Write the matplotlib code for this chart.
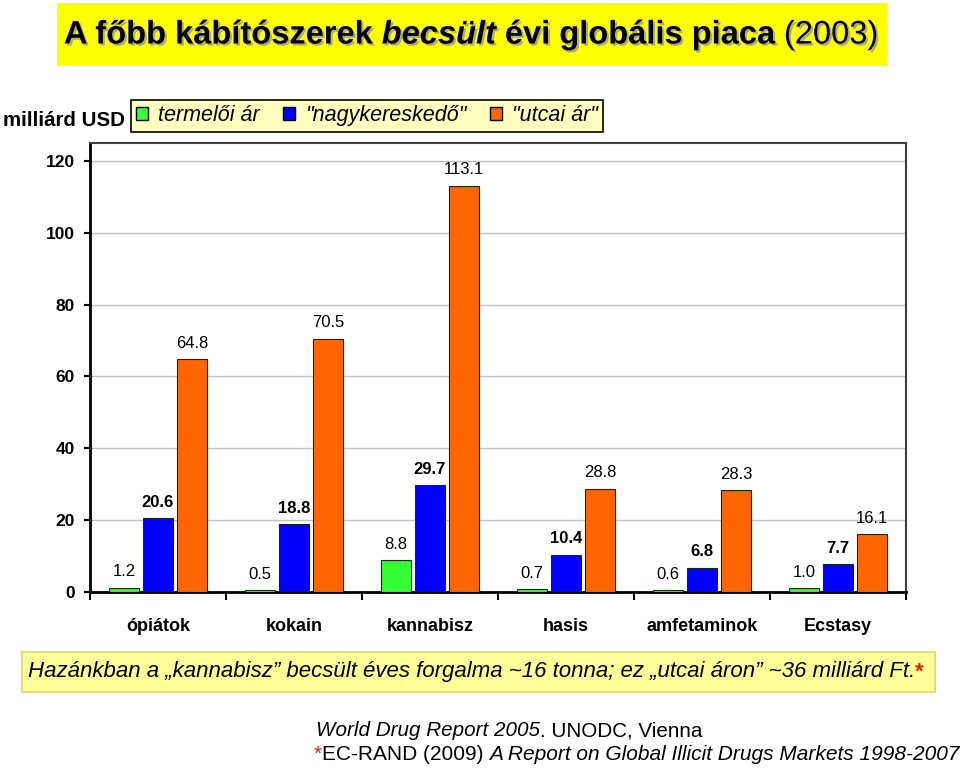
import matplotlib
matplotlib.use('Agg')
import matplotlib.pyplot as plt
import matplotlib.patheffects as pe
import matplotlib.transforms as mtransforms
from matplotlib.patches import Patch, Rectangle
import numpy as np

plt.rcParams['font.family'] = ['Liberation Sans', 'DejaVu Sans']

# data
categories = ['ópiátok', 'kokain', 'kannabisz', 'hasis', 'amfetaminok', 'Ecstasy']
series_names = ['termelői ár', '"nagykereskedő"', '"utcai ár"']
termeloi = [1.2, 0.5, 8.8, 0.7, 0.6, 1.0]
nagyker = [20.6, 18.8, 29.7, 10.4, 6.8, 7.7]
utcai = [64.8, 70.5, 113.1, 28.8, 28.3, 16.1]
yticks = [0, 20, 40, 60, 80, 100, 120]

colors = ['#33FF33', '#0000FF', '#FF6600']
W, H = 960, 769

fig = plt.figure(figsize=(W / 100, H / 100), dpi=100)
rend = fig.canvas.get_renderer()
ident = mtransforms.IdentityTransform()


def text_w(s, **kw):
    # width in pixels, robust to leading/trailing spaces
    t1 = fig.text(0, 0, '|' + s + '|', transform=ident, **kw)
    t2 = fig.text(0, 0, '||', transform=ident, **kw)
    w = t1.get_window_extent(rend).width - t2.get_window_extent(rend).width
    t1.remove()
    t2.remove()
    return w


def rich(x, y, parts, size, align='left', effects=None):
    # parts: list of (string, dict of text kwargs); x,y in pixels from top-left
    widths = [text_w(s, fontsize=size, **kw) for s, kw in parts]
    if align == 'center':
        x = x - sum(widths) / 2
    for (s, kw), w in zip(parts, widths):
        t = fig.text(x, H - y, s, transform=ident, fontsize=size, va='center', **kw)
        if effects:
            t.set_path_effects(effects)
        x += w


# title box
fig.patches.append(Rectangle((57, H - 66), 830, 63, transform=ident,
                             facecolor='#FFFF00', edgecolor='none', zorder=0))
shadow = [pe.SimplePatchShadow(offset=(1.5, -1.5), shadow_rgbFace='#999999', alpha=0.8), pe.Normal()]
rich(471, 35, [('A főbb kábítószerek ', dict(fontweight='bold')),
               ('becsült', dict(fontweight='bold', style='italic')),
               (' évi globális piaca ', dict(fontweight='bold')),
               ('(2003)', dict())], 23.5, align='center', effects=shadow)

# axes
ax = fig.add_axes([90 / W, (H - 592) / H, (906 - 90) / W, (592 - 143) / H])
x = np.arange(len(categories)) + 0.5
bw = 0.225
offs = [-0.25, 0, 0.25]
for vals, c, o, name in zip([termeloi, nagyker, utcai], colors, offs, series_names):
    bars = ax.bar(x + o, vals, bw, color=c, edgecolor='#202020', linewidth=0.8, zorder=3, label=name)
    bold = c == '#0000FF'
    for b, v in zip(bars, vals):
        ax.annotate(f'{v:.1f}', (b.get_x() + b.get_width() / 2, v), xytext=(0, 6),
                    textcoords='offset points', ha='center', va='bottom', fontsize=12,
                    fontweight='bold' if bold else 'normal', color='black')

ax.set_xlim(0, 6)
ax.set_ylim(0, 125)
ax.set_yticks(yticks)
ax.set_yticklabels([str(v) for v in yticks], fontweight='bold', fontsize=12.5)
ax.yaxis.grid(True, color='#C0C0C0', linewidth=1, zorder=0)
ax.set_axisbelow(True)
ax.set_xticks(np.arange(0, 7))
ax.set_xticklabels([])
ax.set_xticks(x, minor=True)
ax.set_xticklabels(categories, minor=True, fontweight='bold', fontsize=13)
ax.tick_params(axis='x', which='major', length=6, width=1.5, direction='out')
ax.tick_params(axis='x', which='minor', length=0, pad=19)
ax.tick_params(axis='y', length=4.5, width=1.5, pad=6.5)
for s in ['left', 'bottom']:
    ax.spines[s].set_linewidth(2)
    ax.spines[s].set_color('black')
for s in ['top', 'right']:
    ax.spines[s].set_linewidth(1.5)
    ax.spines[s].set_color('#404040')

# unit label + legend
fig.text(3, H - 121, 'milliárd USD', transform=ident, fontsize=14.8, fontweight='bold', va='center')
handles = [Patch(facecolor=c, edgecolor='black', linewidth=1) for c in colors]
leg = fig.legend(handles, series_names, loc='upper left', bbox_to_anchor=(131 / W, 1 - 100 / H),
                 ncol=3, prop=dict(style='italic', size=15.5), frameon=True, fancybox=False,
                 facecolor='#FFFFC0', edgecolor='black', framealpha=1, borderpad=0.25,
                 handlelength=0.56, handleheight=0.56, handletextpad=0.45, columnspacing=1.1,
                 borderaxespad=0)
leg.get_frame().set_linewidth(1.2)

# bottom note
fig.patches.append(Rectangle((22, H - 692), 913, 40, transform=ident,
                             facecolor='#FFFF99', edgecolor='#E6DC7A', linewidth=1.5, zorder=0))
rich(28, 672, [('Hazánkban a „kannabisz” becsült éves forgalma ~16 tonna; ez „utcai áron” ~36 milliárd Ft.',
                dict(style='italic')),
               ('*', dict(color='#E02000', fontweight='bold'))], 16)

# sources
rich(316, 731, [('World Drug Report 2005', dict(style='italic')),
                ('. UNODC, Vienna', dict())], 14.9)
rich(314, 754, [('*', dict(color='#E02000')),
                ('EC-RAND (2009) ', dict()),
                ('A Report on Global Illicit Drugs Markets 1998-2007', dict(style='italic'))], 15)

fig.savefig('out.png', dpi=100)
